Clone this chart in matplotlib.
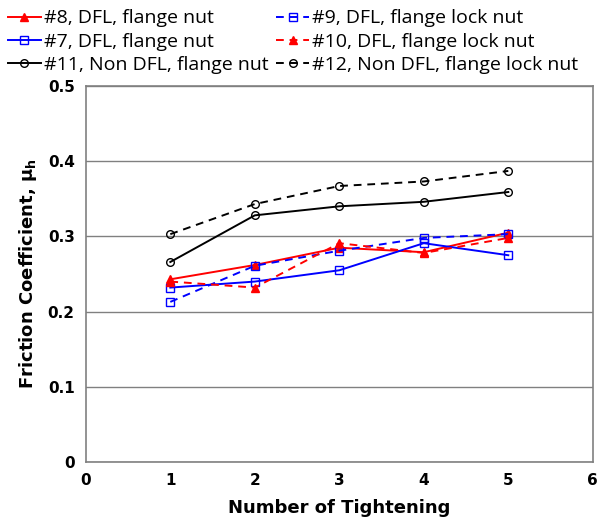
import matplotlib.pyplot as plt

tightening = [1, 2, 3, 4, 5]

s8_dfl_nut = [0.243, 0.262, 0.285, 0.279, 0.305]
s9_dfl_lock = [0.213, 0.261, 0.281, 0.298, 0.303]
s7_dfl_nut = [0.232, 0.240, 0.255, 0.291, 0.275]
s10_dfl_lock = [0.240, 0.232, 0.291, 0.278, 0.298]
s11_non_nut = [0.266, 0.328, 0.340, 0.346, 0.359]
s12_non_lock = [0.303, 0.343, 0.367, 0.373, 0.387]

fig = plt.figure(figsize=(6.0, 5.27), dpi=100)
ax = fig.add_axes([0.143, 0.123, 0.845, 0.714])

ms = 5.5
lines = []
lines += ax.plot(tightening, s8_dfl_nut, color='red', marker='^', ms=ms, lw=1.4,
                 label='#8, DFL, flange nut')
lines += ax.plot(tightening, s7_dfl_nut, color='blue', marker='s', ms=ms, lw=1.4,
                 mfc='none', label='#7, DFL, flange nut')
lines += ax.plot(tightening, s11_non_nut, color='black', marker='o', ms=ms, lw=1.4,
                 mfc='none', label='#11, Non DFL, flange nut')
lines += ax.plot(tightening, s9_dfl_lock, color='blue', marker='s', ms=ms, lw=1.4,
                 ls=(0, (4, 3)), mfc='none', label='#9, DFL, flange lock nut')
lines += ax.plot(tightening, s10_dfl_lock, color='red', marker='^', ms=ms, lw=1.4,
                 ls=(0, (4, 3)), label='#10, DFL, flange lock nut')
lines += ax.plot(tightening, s12_non_lock, color='black', marker='o', ms=ms, lw=1.4,
                 ls=(0, (4, 3)), mfc='none', label='#12, Non DFL, flange lock nut')

ax.set_xlim(0, 6)
ax.set_ylim(0, 0.5)
ax.set_yticks([0, 0.1, 0.2, 0.3, 0.4, 0.5])
ax.set_yticklabels(['0', '0.1', '0.2', '0.3', '0.4', '0.5'])
ax.set_xticks(range(0, 7))
ax.yaxis.grid(True, color='#808080', lw=1)
ax.set_axisbelow(True)
for sp in ax.spines.values():
    sp.set_color('#808080')
    sp.set_linewidth(1.2)
ax.tick_params(length=0, labelsize=11, pad=8)
for lab in ax.get_xticklabels() + ax.get_yticklabels():
    lab.set_fontweight('bold')

ax.set_xlabel('Number of Tightening', fontsize=13, fontweight='bold', labelpad=8)
ax.set_ylabel('Friction Coefficient, $\\mathbf{\\mu_h}$', fontsize=13,
              fontweight='bold', labelpad=6)

fig.legend(handles=lines, loc='upper left', bbox_to_anchor=(0.0, 0.997),
           ncol=2, frameon=False, prop={'family': 'Open Sans', 'size': 14},
           handlelength=1.7, handletextpad=0.15, columnspacing=0.4,
           labelspacing=0.28, borderaxespad=0.0)

fig.savefig('out.png', dpi=100)
